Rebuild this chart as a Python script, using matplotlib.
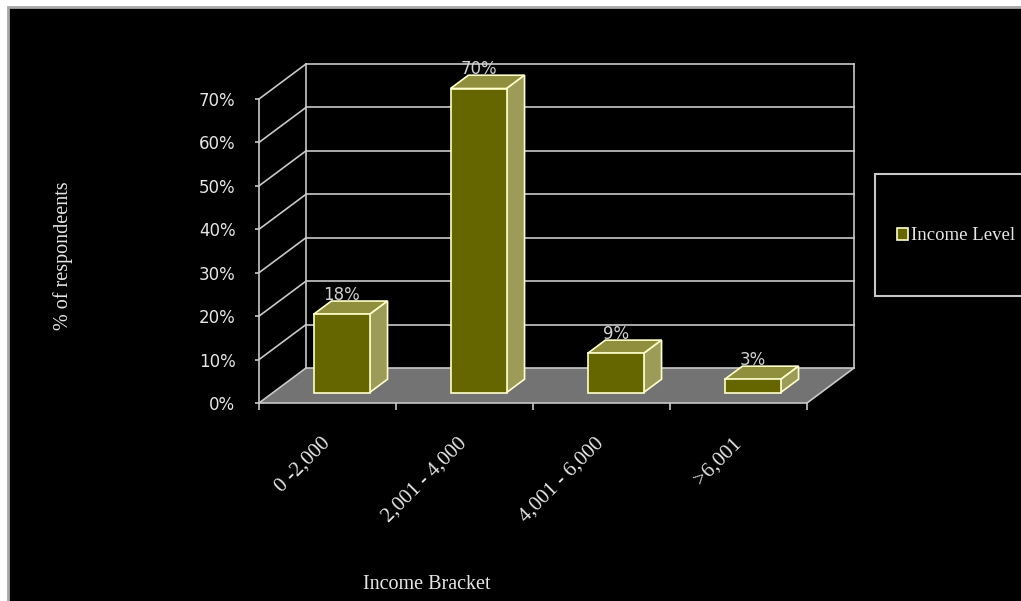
"""
Income bracket chart - pseudo 3D column chart on black background
"""
import matplotlib
matplotlib.use('Agg')
import matplotlib.pyplot as plt
from matplotlib.patches import Polygon, Rectangle

# =============================================================================
#     Data
# =============================================================================
categories = ['0 -2,000', '2,001 - 4,000', '4,001 - 6,000', '>6,001']
values = [18, 70, 9, 3]
y_ticks = [0, 10, 20, 30, 40, 50, 60, 70]
series_name = 'Income Level'

# Colours
FRONT = '#666600'
SIDE = '#9c9c58'
TOP = '#8f8f3e'
EDGE = '#ffffcc'
GRID = '#c8c8c8'
FLOOR = '#737373'
TEXT = '#e6e6e6'

# depth of the 3D box in data units (x in categories, y in %)
DX = 47 / 137
DY = 35 / 304 * 70
F0, DD = 0.30, 0.38   # bar front position and depth as fraction of box depth
BAR_W = 0.41

serif = 'Liberation Serif'

fig = plt.figure(figsize=(10.21, 6.01), dpi=100, facecolor='white')

# black chart area with grey border (white strip at left/top like the screenshot)
W, H = 1021, 601
fig.patches.append(Rectangle((8 / W, -0.1), 1.2, 1.1 - 7 / H,
                             transform=fig.transFigure, facecolor='black',
                             edgecolor='#a8a8a8', linewidth=2, zorder=-10))

ax = fig.add_axes([259 / W, (H - 403) / H, 548 / W, 304 / H])
ax.set_facecolor('none')
ax.set_xlim(0, len(categories))
ax.set_ylim(0, 70)

# Floor
n = len(categories)
ax.add_patch(Polygon([(0, 0), (n, 0), (n + DX, DY), (DX, DY)], closed=True,
                     facecolor=FLOOR, edgecolor='none', zorder=1, clip_on=False))

# Side wall and back wall gridlines
for g in y_ticks:
    ax.plot([0, DX], [g, g + DY], color=GRID, lw=1.2, zorder=2, clip_on=False)
    ax.plot([DX, n + DX], [g + DY, g + DY], color=GRID, lw=1.2, zorder=2,
            clip_on=False)
for xv in [DX, n + DX]:
    ax.plot([xv, xv], [DY, 70 + DY], color=GRID, lw=1.2, zorder=2, clip_on=False)
ax.plot([n, n + DX], [0, DY], color=GRID, lw=1.2, zorder=2, clip_on=False)

# Bars - front faces
x_front = [i + 0.5 + F0 * DX for i in range(n)]
bottom = F0 * DY
bars = ax.bar(x_front, values, width=BAR_W, bottom=bottom, color=FRONT,
              edgecolor=EDGE, linewidth=1.2, zorder=4, clip_on=False,
              label=series_name)

# Bars - top and side faces, data labels
for xc, v in zip(x_front, values):
    xl, xr = xc - BAR_W / 2, xc + BAR_W / 2
    top = bottom + v
    ddx, ddy = DD * DX, DD * DY
    ax.add_patch(Polygon([(xl, top), (xr, top), (xr + ddx, top + ddy),
                          (xl + ddx, top + ddy)], closed=True, facecolor=TOP,
                         edgecolor=EDGE, linewidth=1.2, zorder=3, clip_on=False))
    ax.add_patch(Polygon([(xr, bottom), (xr + ddx, bottom + ddy),
                          (xr + ddx, top + ddy), (xr, top)], closed=True,
                         facecolor=SIDE, edgecolor=EDGE, linewidth=1.2, zorder=3,
                         clip_on=False))
    ax.text(xc, top + ddy - 0.6, f'{v}%', ha='center', va='bottom', fontsize=12,
            color='#d0d0d0', zorder=5, family='DejaVu Sans')

# Axes styling
for s in ['top', 'right']:
    ax.spines[s].set_visible(False)
for s in ['left', 'bottom']:
    ax.spines[s].set_color(GRID)
    ax.spines[s].set_linewidth(1.2)
    ax.spines[s].set_zorder(2)

ax.set_yticks(y_ticks, [f'{t}%' for t in y_ticks])
ax.tick_params(axis='y', colors=GRID, labelcolor=TEXT, labelsize=12,
               length=3, width=1.2, pad=14)

ax.set_xticks(range(n + 1), [''] * (n + 1))
ax.set_xticks([i + 0.5 for i in range(n)], categories, minor=True)
ax.tick_params(axis='x', which='major', colors=GRID, length=5, width=1.2)
ax.tick_params(axis='x', which='minor', length=0, pad=27)
for lbl in ax.get_xticklabels(minor=True):
    lbl.set_rotation(45)
    lbl.set_rotation_mode('anchor')
    lbl.set_ha('right')
    lbl.set_va('center')
    lbl.set_family(serif)
    lbl.set_fontsize(15)
    lbl.set_color(TEXT)

ax.set_xlabel('Income Bracket', family=serif, fontsize=14.5, color=TEXT)
ax.xaxis.set_label_coords((427 - 259) / 548, (403 - 575) / 304)
ax.set_ylabel('% of respondeents', family=serif, fontsize=14.5, color=TEXT)
ax.yaxis.set_label_coords((63 - 259) / 548, (403 - 256) / 304)
ax.yaxis.label.set_va('center')

# Legend box
fig.patches.append(Rectangle((875 / W, (H - 296) / H), 0.2, 122 / H,
                             transform=fig.transFigure, facecolor='black',
                             edgecolor=GRID, linewidth=1.5, zorder=-5))
leg = fig.legend(handles=[bars], labels=[series_name], loc='center left',
                 bbox_to_anchor=(888 / W, 1 - 236 / H), frameon=False,
                 borderpad=0, handlelength=0.55, handleheight=0.55,
                 handletextpad=0.2, prop={'family': serif, 'size': 13.5})
for t in leg.get_texts():
    t.set_color(TEXT)

fig.savefig('out.png', dpi=100, facecolor='white')
